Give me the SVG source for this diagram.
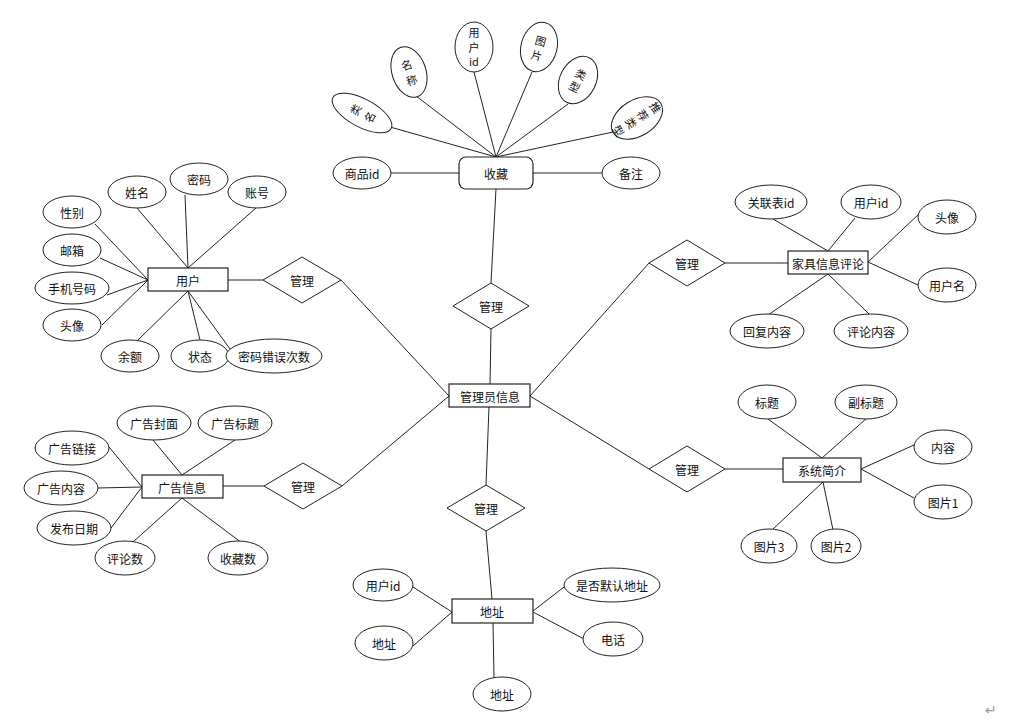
<svg xmlns="http://www.w3.org/2000/svg" width="1026" height="725" viewBox="0 0 1026 725">
<style>
text{font-family:"Noto Sans CJK SC","Liberation Sans",sans-serif;font-size:12px;fill:#111;text-anchor:middle;dominant-baseline:central}
.v{font-size:11px}
.e{fill:#fff;stroke:#222;stroke-width:1}
.r{fill:#fff;stroke:#222;stroke-width:1.2}
.d{fill:#fff;stroke:#222;stroke-width:1}
#conn line{stroke:#222;stroke-width:1}
</style>
<rect width="1026" height="725" fill="#fff"/>
<g id="conn">
<line x1="383" y1="125" x2="496" y2="157"/>
<line x1="416" y1="96" x2="496" y2="157"/>
<line x1="474" y1="72" x2="496" y2="157"/>
<line x1="532" y1="72" x2="496" y2="157"/>
<line x1="568" y1="104" x2="496" y2="157"/>
<line x1="613" y1="132" x2="496" y2="157"/>
<line x1="391" y1="173" x2="459" y2="173"/>
<line x1="533" y1="173" x2="602" y2="173"/>
<line x1="496" y1="189" x2="491" y2="283"/>
<line x1="491" y1="329" x2="490" y2="384"/>
<line x1="137" y1="208" x2="188" y2="268"/>
<line x1="185" y1="195" x2="188" y2="268"/>
<line x1="256" y1="208" x2="188" y2="268"/>
<line x1="95" y1="224" x2="148" y2="280"/>
<line x1="100" y1="258" x2="148" y2="280"/>
<line x1="107" y1="295" x2="148" y2="280"/>
<line x1="102" y1="325" x2="148" y2="280"/>
<line x1="138" y1="340" x2="188" y2="291"/>
<line x1="200" y1="340" x2="188" y2="291"/>
<line x1="230" y1="349" x2="188" y2="291"/>
<line x1="228" y1="280" x2="263" y2="280"/>
<line x1="341" y1="280" x2="449" y2="396"/>
<line x1="153" y1="440" x2="182" y2="475"/>
<line x1="235" y1="440" x2="182" y2="475"/>
<line x1="109" y1="447" x2="142" y2="487"/>
<line x1="98" y1="488" x2="142" y2="487"/>
<line x1="111" y1="528" x2="142" y2="487"/>
<line x1="133" y1="542" x2="182" y2="498"/>
<line x1="242" y1="543" x2="182" y2="498"/>
<line x1="223" y1="486" x2="264" y2="486"/>
<line x1="342" y1="486" x2="449" y2="396"/>
<line x1="773" y1="219" x2="828" y2="251"/>
<line x1="855" y1="218" x2="828" y2="251"/>
<line x1="920" y1="213" x2="868" y2="262"/>
<line x1="918" y1="285" x2="868" y2="262"/>
<line x1="768" y1="315" x2="828" y2="274"/>
<line x1="870" y1="315" x2="828" y2="274"/>
<line x1="725" y1="263" x2="788" y2="263"/>
<line x1="530" y1="396" x2="649" y2="263"/>
<line x1="768" y1="419" x2="822" y2="458"/>
<line x1="867" y1="418" x2="822" y2="458"/>
<line x1="914" y1="445" x2="861" y2="469"/>
<line x1="914" y1="498" x2="861" y2="469"/>
<line x1="772" y1="530" x2="823" y2="482"/>
<line x1="833" y1="530" x2="823" y2="482"/>
<line x1="725" y1="469" x2="783" y2="469"/>
<line x1="530" y1="396" x2="649" y2="469"/>
<line x1="489" y1="407" x2="486" y2="485"/>
<line x1="486" y1="531" x2="492" y2="599"/>
<line x1="413" y1="587" x2="452" y2="612"/>
<line x1="413" y1="646" x2="452" y2="612"/>
<line x1="493" y1="623" x2="494" y2="678"/>
<line x1="564" y1="587" x2="533" y2="611"/>
<line x1="584" y1="639" x2="533" y2="612"/>
</g>

<g id="n-admin"><rect class="r" x="449" y="384" width="81" height="23"/><text x="490" y="396">管理员信息</text></g>

<g id="n-fav"><rect class="r" x="459" y="157" width="74" height="32" rx="7"/><text x="496" y="173">收藏</text></g>
<g id="a-fav-spid"><ellipse class="e" cx="362" cy="173" rx="29" ry="16"/><text x="362" y="173">商品id</text></g>
<g id="a-fav-note"><ellipse class="e" cx="631" cy="173" rx="29" ry="16"/><text x="631" y="173">备注</text></g>
<g id="a-fav-lm" transform="rotate(-62 362 113)"><ellipse class="e" cx="362" cy="113" rx="14" ry="33"/><text class="v" x="362" y="105">类</text><text class="v" x="362" y="121">名</text></g>
<g id="a-fav-name" transform="rotate(-18 409 72)"><ellipse class="e" cx="409" cy="72" rx="17" ry="26"/><text class="v" x="409" y="64">名</text><text class="v" x="409" y="80">称</text></g>
<g id="a-fav-uid"><ellipse class="e" cx="474" cy="47" rx="19" ry="25"/><text class="v" x="474" y="32">用</text><text class="v" x="474" y="46.5">户</text><text class="v" x="474" y="61">id</text></g>
<g id="a-fav-img" transform="rotate(15 539 47)"><ellipse class="e" cx="539" cy="47" rx="18" ry="25"/><text class="v" x="539" y="40">图</text><text class="v" x="539" y="55">片</text></g>
<g id="a-fav-type" transform="rotate(27 578 80)"><ellipse class="e" cx="578" cy="80" rx="18" ry="25"/><text class="v" x="578" y="73">类</text><text class="v" x="578" y="87">型</text></g>
<g id="a-fav-rec" transform="rotate(58 637 118)"><ellipse class="e" cx="637" cy="118" rx="18" ry="28"/><text class="v" x="638" y="96">推</text><text class="v" x="638" y="111">荐</text><text class="v" x="638" y="125">类</text><text class="v" x="638" y="140">型</text></g>
<g id="d-fav"><polygon class="d" points="491,283 529,306 491,329 453,306"/><text x="491" y="306">管理</text></g>

<g id="n-user"><rect class="r" x="148" y="268" width="80" height="23"/><text x="188" y="280">用户</text></g>
<g id="a-u1"><ellipse class="e" cx="137" cy="192" rx="29" ry="16"/><text x="137" y="192">姓名</text></g>
<g id="a-u2"><ellipse class="e" cx="199" cy="179" rx="29" ry="16"/><text x="199" y="179">密码</text></g>
<g id="a-u3"><ellipse class="e" cx="257" cy="192" rx="29" ry="16"/><text x="257" y="192">账号</text></g>
<g id="a-u4"><ellipse class="e" cx="72" cy="212" rx="29" ry="16"/><text x="72" y="212">性别</text></g>
<g id="a-u5"><ellipse class="e" cx="72" cy="250" rx="29" ry="16"/><text x="72" y="250">邮箱</text></g>
<g id="a-u6"><ellipse class="e" cx="72" cy="288" rx="37" ry="16"/><text x="72" y="288">手机号码</text></g>
<g id="a-u7"><ellipse class="e" cx="72" cy="325" rx="29" ry="16"/><text x="72" y="325">头像</text></g>
<g id="a-u8"><ellipse class="e" cx="130" cy="356" rx="29" ry="16"/><text x="130" y="356">余额</text></g>
<g id="a-u9"><ellipse class="e" cx="200" cy="356" rx="29" ry="16"/><text x="200" y="356">状态</text></g>
<g id="a-u10"><ellipse class="e" cx="274" cy="356" rx="48" ry="17"/><text x="274" y="356">密码错误次数</text></g>
<g id="d-user"><polygon class="d" points="302,257 341,280 302,303 263,280"/><text x="302" y="280">管理</text></g>

<g id="n-ad"><rect class="r" x="142" y="475" width="81" height="23"/><text x="182" y="487">广告信息</text></g>
<g id="a-ad1"><ellipse class="e" cx="154" cy="423" rx="37" ry="17"/><text x="154" y="423">广告封面</text></g>
<g id="a-ad2"><ellipse class="e" cx="235" cy="423" rx="37" ry="17"/><text x="235" y="423">广告标题</text></g>
<g id="a-ad3"><ellipse class="e" cx="72" cy="448" rx="37" ry="17"/><text x="72" y="448">广告链接</text></g>
<g id="a-ad4"><ellipse class="e" cx="61" cy="488" rx="37" ry="17"/><text x="61" y="488">广告内容</text></g>
<g id="a-ad5"><ellipse class="e" cx="74" cy="528" rx="37" ry="17"/><text x="74" y="528">发布日期</text></g>
<g id="a-ad6"><ellipse class="e" cx="125" cy="558" rx="30" ry="17"/><text x="125" y="558">评论数</text></g>
<g id="a-ad7"><ellipse class="e" cx="238" cy="558" rx="30" ry="17"/><text x="238" y="558">收藏数</text></g>
<g id="d-ad"><polygon class="d" points="303,463 342,486 303,509 264,486"/><text x="303" y="486">管理</text></g>

<g id="n-comment"><rect class="r" x="788" y="251" width="80" height="23"/><text x="828" y="263">家具信息评论</text></g>
<g id="a-c1"><ellipse class="e" cx="771" cy="202" rx="36" ry="17"/><text x="771" y="202">关联表id</text></g>
<g id="a-c2"><ellipse class="e" cx="871" cy="202" rx="30" ry="17"/><text x="871" y="202">用户id</text></g>
<g id="a-c3"><ellipse class="e" cx="947" cy="217" rx="29" ry="17"/><text x="947" y="217">头像</text></g>
<g id="a-c4"><ellipse class="e" cx="947" cy="285" rx="29" ry="17"/><text x="947" y="285">用户名</text></g>
<g id="a-c5"><ellipse class="e" cx="767" cy="331" rx="37" ry="17"/><text x="767" y="331">回复内容</text></g>
<g id="a-c6"><ellipse class="e" cx="871" cy="331" rx="37" ry="17"/><text x="871" y="331">评论内容</text></g>
<g id="d-comment"><polygon class="d" points="687,240 725,263 687,286 649,263"/><text x="687" y="263">管理</text></g>

<g id="n-intro"><rect class="r" x="783" y="458" width="78" height="24"/><text x="822" y="470">系统简介</text></g>
<g id="a-i1"><ellipse class="e" cx="767" cy="402" rx="29" ry="17"/><text x="767" y="402">标题</text></g>
<g id="a-i2"><ellipse class="e" cx="866" cy="402" rx="31" ry="17"/><text x="866" y="402">副标题</text></g>
<g id="a-i3"><ellipse class="e" cx="943" cy="447" rx="29" ry="17"/><text x="943" y="447">内容</text></g>
<g id="a-i4"><ellipse class="e" cx="943" cy="502" rx="29" ry="17"/><text x="943" y="502">图片1</text></g>
<g id="a-i5"><ellipse class="e" cx="769" cy="546" rx="28" ry="17"/><text x="769" y="546">图片3</text></g>
<g id="a-i6"><ellipse class="e" cx="836" cy="546" rx="25" ry="17"/><text x="836" y="546">图片2</text></g>
<g id="d-intro"><polygon class="d" points="687,446 725,469 687,492 649,469"/><text x="687" y="469">管理</text></g>

<g id="n-address"><rect class="r" x="452" y="599" width="81" height="24"/><text x="492" y="611">地址</text></g>
<g id="a-ad-uid"><ellipse class="e" cx="383" cy="585" rx="30" ry="16"/><text x="383" y="585">用户id</text></g>
<g id="a-ad-addr1"><ellipse class="e" cx="384" cy="643" rx="29" ry="17"/><text x="384" y="643">地址</text></g>
<g id="a-ad-addr2"><ellipse class="e" cx="502" cy="694" rx="29" ry="17"/><text x="502" y="694">地址</text></g>
<g id="a-ad-def"><ellipse class="e" cx="612" cy="585" rx="48" ry="17"/><text x="612" y="585">是否默认地址</text></g>
<g id="a-ad-tel"><ellipse class="e" cx="613" cy="639" rx="30" ry="17"/><text x="613" y="639">电话</text></g>
<g id="d-address"><polygon class="d" points="486,485 525,508 486,531 447,508"/><text x="486" y="508">管理</text></g>

<text x="991" y="709" style="fill:#999;font-size:14px">↵</text>
</svg>
